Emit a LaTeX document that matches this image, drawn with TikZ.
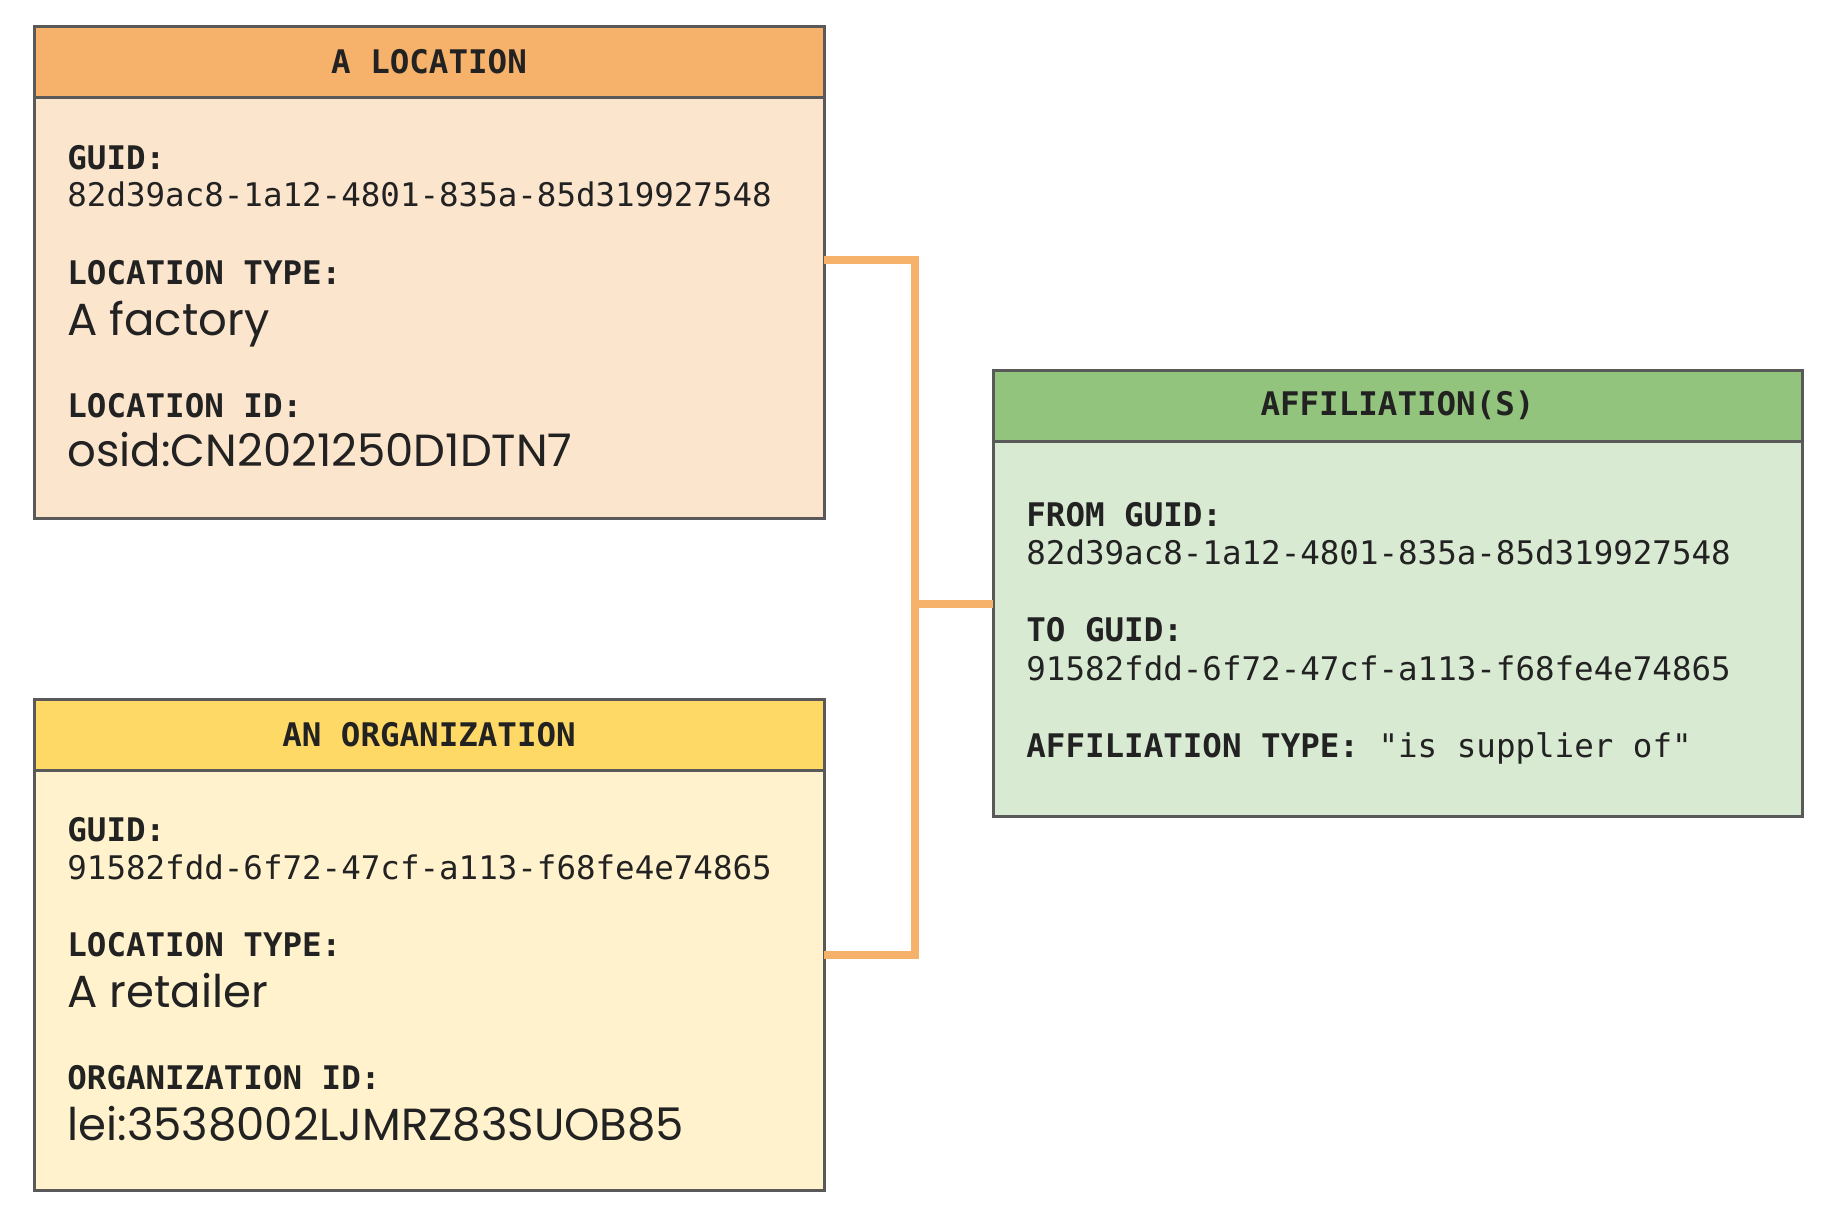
\documentclass[tikz,border=0pt]{standalone}
\usepackage{fontspec}
\newfontfamily\monofont{DejaVu Sans Mono}
\newfontfamily\geofont{Poppins}
\usetikzlibrary{positioning}

\definecolor{lochead}{HTML}{F6B26B}
\definecolor{locbody}{HTML}{FCE5CD}
\definecolor{orghead}{HTML}{FFD966}
\definecolor{orgbody}{HTML}{FFF2CC}
\definecolor{affhead}{HTML}{93C47D}
\definecolor{affbody}{HTML}{D9EAD3}
\definecolor{edge}{HTML}{595959}
\definecolor{ink}{HTML}{222222}

\tikzset{
  box/.style={draw=edge, line width=1.5pt, rectangle, anchor=north west, inner sep=0pt, outer sep=0pt, minimum width=395pt},
  head/.style={box, minimum height=35.5pt, text=ink, font=\monofont\bfseries\fontsize{16.25}{18}\selectfont},
  key/.style={anchor=base west, inner sep=0pt, text=ink, font=\monofont\bfseries\fontsize{16.25}{18}\selectfont},
  val/.style={key, font=\monofont\fontsize{16.25}{18}\selectfont},
  big/.style={key, font=\geofont\fontsize{22.5}{26}\selectfont},
  link/.style={draw=lochead, line width=4pt}
}

\begin{document}
\begin{tikzpicture}[x=0.5pt, y=-0.5pt]
\useasboundingbox (0,0) rectangle (1846,1216);

% boxes
\node[box, fill=locbody, minimum height=210.5pt] (loc) at (34,97) {};
\node[head, fill=lochead, above=0pt of loc] (lochd) {A LOCATION};
\node[box, fill=orgbody, minimum height=210pt] (org) at (34,770) {};
\node[head, fill=orghead, above=0pt of org] (orghd) {AN ORGANIZATION};
\node[box, fill=affbody, minimum width=404.5pt, minimum height=187.5pt] (aff) at (993,441) {};
\node[head, fill=affhead, minimum width=404.5pt, above=0pt of aff] (affhd) {AFFILIATION(S)};

% location fields
\node[key] (locguid) at (67,169) {GUID:};
\node[val] (locguidv) at (67,206) {82d39ac8-1a12-4801-835a-85d319927548};
\node[key] (loctype) at (67,284) {LOCATION TYPE:};
\node[big] (loctypev) at (67,335) {A factory};
\node[key] (locid) at (67,417) {LOCATION ID:};
\node[big] (locidv) at (67,466) {osid:CN2021250D1DTN7};

% organization fields
\node[key] (orgguid) at (67,841) {GUID:};
\node[val] (orgguidv) at (67,879) {91582fdd-6f72-47cf-a113-f68fe4e74865};
\node[key] (orgtype) at (67,956) {LOCATION TYPE:};
\node[big] (orgtypev) at (67,1007) {A retailer};
\node[key] (orgid) at (67,1089) {ORGANIZATION ID:};
\node[big] (orgidv) at (67,1140) {lei:3538002LJMRZ83SUOB85};

% affiliation fields
\node[key] (afffrom) at (1026,526) {FROM GUID:};
\node[val] (afffromv) at (1026,564) {82d39ac8-1a12-4801-835a-85d319927548};
\node[key] (affto) at (1026,641) {TO GUID:};
\node[val] (afftov) at (1026,680) {91582fdd-6f72-47cf-a113-f68fe4e74865};
\node[key] (afftype) at (1026,757) {AFFILIATION TYPE: {\mdseries "is supplier of"}};

% connectors
\coordinate (hub) at (914.5,603.5);
\draw[link] ([yshift=24pt]loc.east) -| (hub) |- ([yshift=12.5pt]org.east);
\draw[link] (hub) -- (hub -| aff.west);
\end{tikzpicture}
\end{document}
